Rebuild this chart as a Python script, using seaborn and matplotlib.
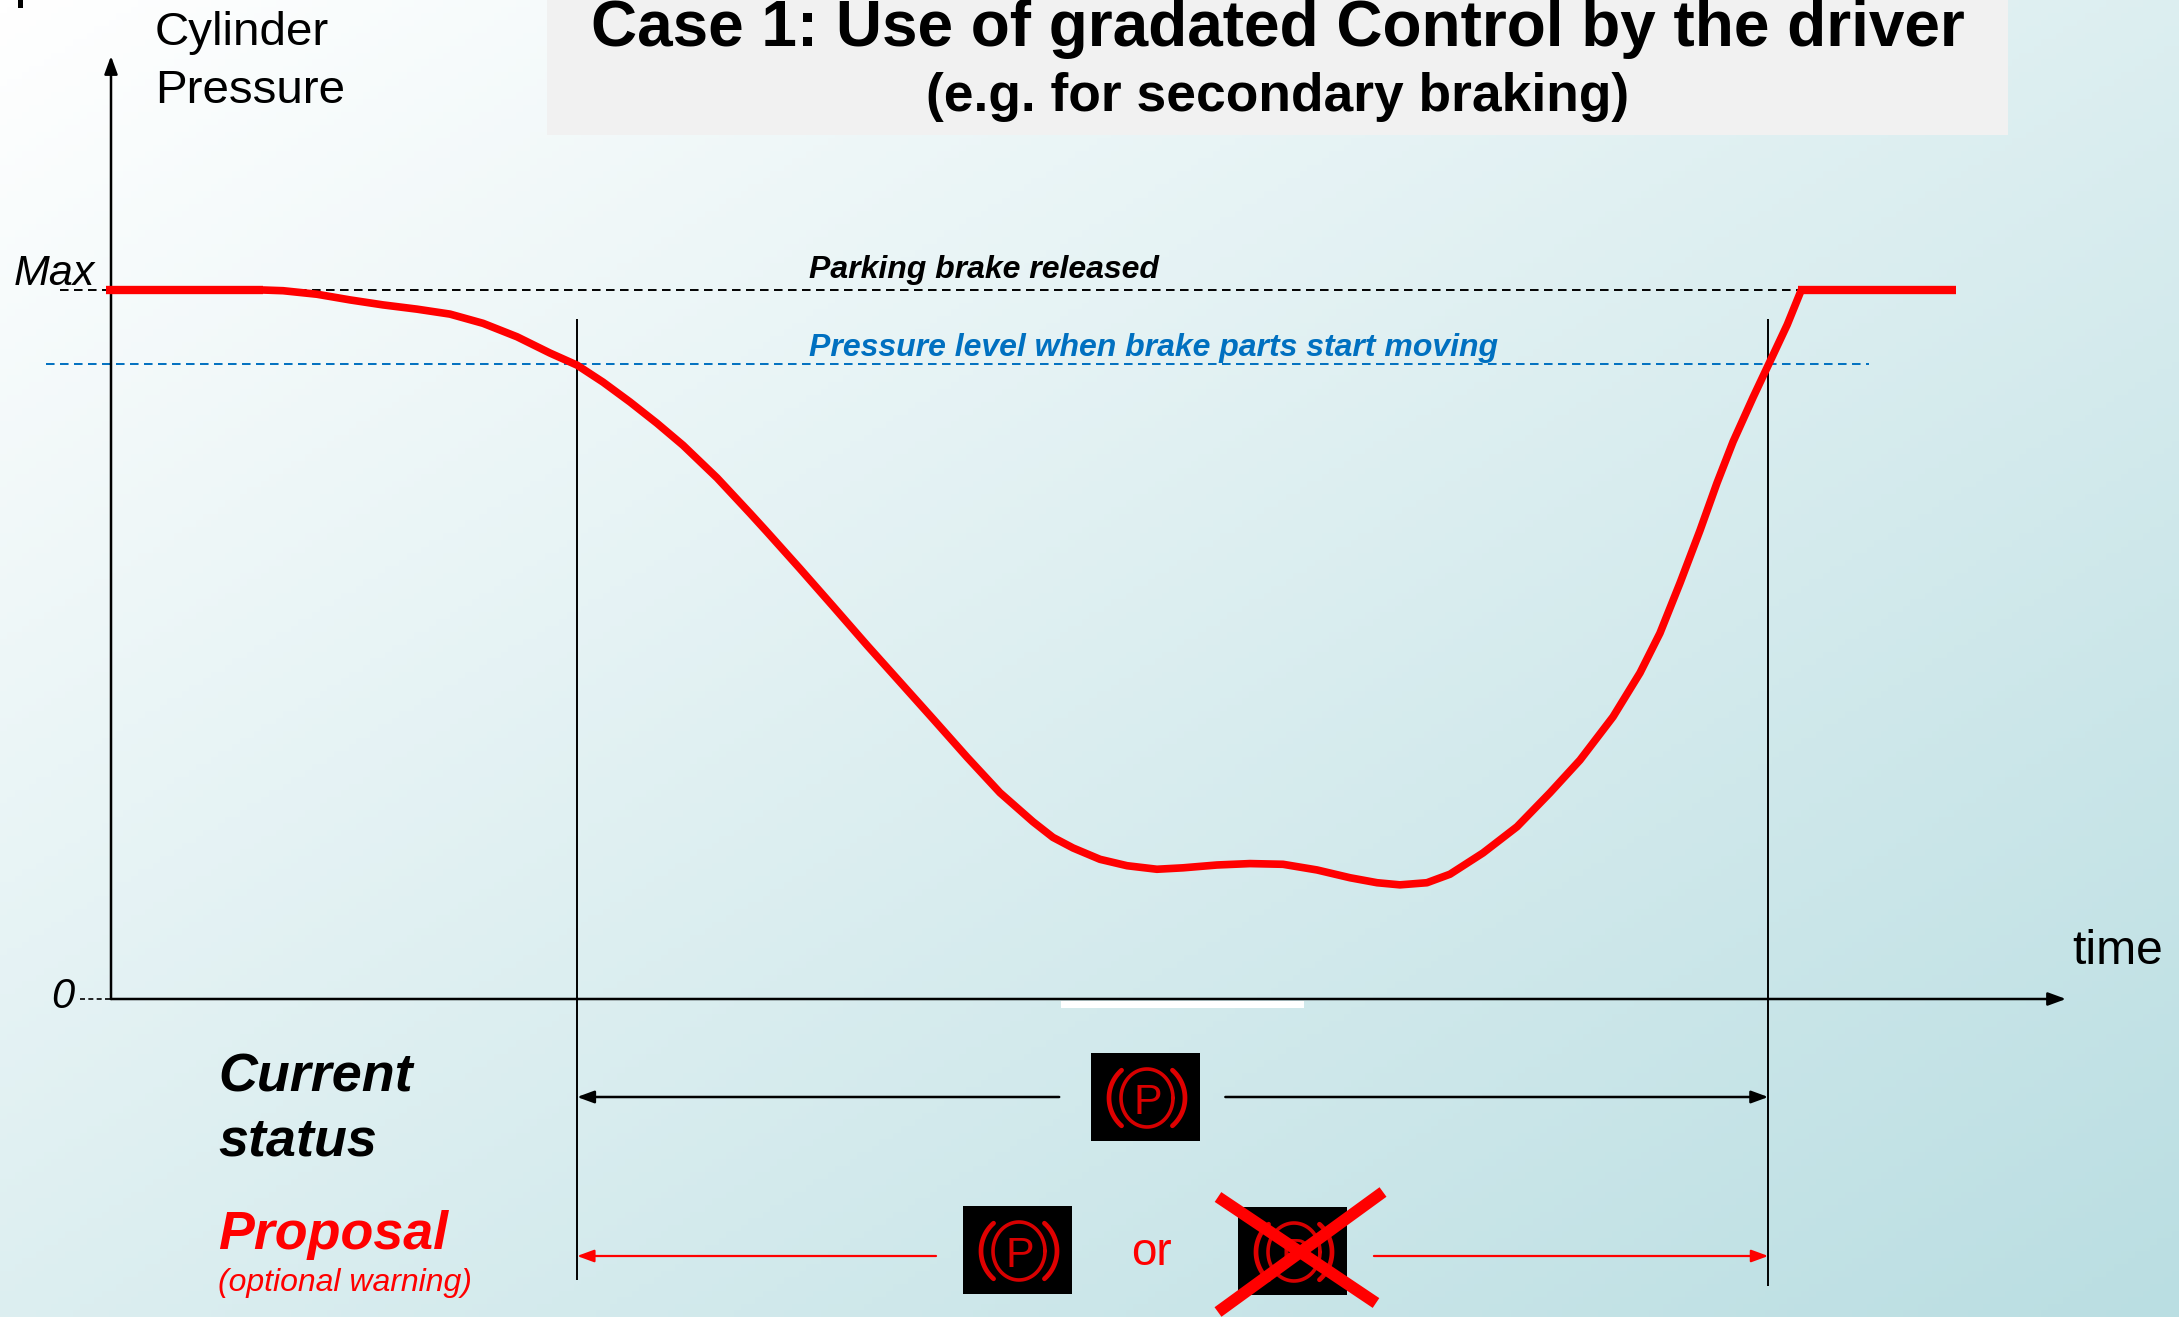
# plot.py
import numpy as np
import matplotlib.pyplot as plt
import seaborn as sns
from matplotlib.colors import LinearSegmentedColormap
from matplotlib.patches import Rectangle
from matplotlib.transforms import Affine2D

# ─── DATA ───────────────────────────────────────────────────────
TIME = [77.7, 88.0, 105.4, 122.3, 139.1, 156.5, 173.4, 190.3, 207.7, 224.6, 238.4,
        251.7, 265.5, 279.3, 292.6, 310.0, 326.9, 335.5, 352.4, 369.3, 386.7, 403.6,
        420.5, 437.9, 454.7, 471.6, 481.8, 492.1, 505.9, 519.7, 535.0, 548.3, 565.7,
        582.6, 599.5, 616.9, 633.8, 647.6, 659.3, 673.1, 684.9, 701.8, 719.2, 736.1,
        751.4, 768.3, 782.1, 792.3, 802.6, 812.8, 821.5, 829.7, 840.0, 847.7, 857.4,
        864.6]
PRESSURE = [100, 99.9, 99.4, 98.6, 97.9, 97.3, 96.6, 95.3, 93.4, 91.1, 89.4,
            87.0, 84.2, 81.2, 78.1, 73.5, 68.5, 65.9, 60.7, 55.4, 49.9, 44.7,
            39.5, 34.1, 29.1, 25.0, 22.8, 21.3, 19.7, 18.8, 18.3, 18.5, 18.9,
            19.1, 19.0, 18.2, 17.1, 16.4, 16.1, 16.4, 17.6, 20.6, 24.3, 29.1,
            33.7, 39.8, 46.0, 51.6, 58.7, 66.1, 72.8, 78.6, 84.9, 89.4, 95.1,
            100]
HOLD_BEFORE = [-2.6, 77.7]
HOLD_AFTER = [862.9, 943.7]
LEVEL_RELEASED = 100
LEVEL_MOVING = 89.6
T_START = 238.4
T_END = 847.7

TITLE = "Case 1: Use of gradated Control by the driver"
SUBTITLE = "(e.g. for secondary braking)"
RED = "#FF0000"
BLUE = "#0070C0"
FONT = "Liberation Sans"
# ────────────────────────────────────────────────────────────────

W, H = 2179, 1317
sns.set_theme(style="white")
plt.rcParams["font.family"] = FONT

fig = plt.figure(figsize=(W / 100, H / 100), dpi=100)

# slide background, diagonal gradient
bg = fig.add_axes([0, 0, 1, 1], zorder=-1)
yy, xx = np.mgrid[0:1:200j, 0:1:300j]
cmap = LinearSegmentedColormap.from_list("slide", ["#FFFFFF", "#BADEE2"])
bg.imshow((xx + yy) / 2, cmap=cmap, aspect="auto", vmin=0, vmax=1)
bg.axis("off")

ax = fig.add_axes([0, 0, 1, 1])
ax.patch.set_alpha(0)
ax.axis("off")

# pixel coordinates, origin top left, for the slide furniture
px = Affine2D().scale(1, -1).translate(0, H)


def txt(x, y, s, size, color="black", weight="normal", style="normal", ha="left"):
    ax.text(x, y, s, transform=px, fontsize=size, color=color, fontweight=weight,
            fontstyle=style, ha=ha, va="baseline", family=FONT)


def arrow(start, end, color, lw, scale=18):
    ax.annotate("", xy=end, xytext=start, xycoords="data", textcoords="data",
                arrowprops=dict(arrowstyle="-|>,head_length=0.6,head_width=0.22",
                                color=color, lw=lw, shrinkA=0, shrinkB=0,
                                mutation_scale=scale))


def brake_icon(x0, y0):
    ax.add_patch(Rectangle((x0, y0), 109, 88, transform=px, color="black", lw=0, zorder=5))
    cx, cy = x0 + 56, y0 + 45
    t = np.linspace(0, 2 * np.pi, 80)
    ax.plot(cx + 26 * np.cos(t), cy + 29 * np.sin(t), transform=px, color="#D80000",
            lw=2.6, zorder=6)
    for sgn in (-1, 1):
        a = np.linspace(-0.85, 0.85, 30)
        ax.plot(cx + sgn * (37 * np.cos(a) + 1), cy + 37 * np.sin(a), transform=px,
                color="#E00000", lw=3.4, solid_capstyle="round", zorder=6)
    ax.text(cx + 1, cy + 16, "P", transform=px, fontsize=31, color="#D80000",
            ha="center", va="baseline", family=FONT, zorder=6)


# title box
ax.add_patch(Rectangle((547, 0), 1461, 135, transform=px, color="#F1F1F1", lw=0, zorder=1))
txt(1278, 46, TITLE, 46, weight="bold", ha="center")
txt(1278, 111, SUBTITLE, 38.4, weight="bold", ha="center")

# cropped mark in the corner
ax.add_patch(Rectangle((18, 0), 5, 8, transform=px, color="black", lw=0))

# reference levels
ax.hlines(LEVEL_RELEASED, -26, 866, color="black", lw=1.4, linestyles=(0, (4.4, 2.8)), zorder=2)
ax.hlines(LEVEL_MOVING, -33, 899, color=BLUE, lw=1.4, linestyles=(0, (4.4, 2.8)), zorder=2)
txt(809, 278, "Parking brake released", 23, weight="bold", style="italic")
txt(809, 356, "Pressure level when brake parts start moving", 23, color=BLUE,
    weight="bold", style="italic")

# axes
arrow((0, 0), (0, 133), "black", 1.8)
arrow((0, 0), (1000, 0), "black", 1.8)
ax.hlines(0, -16, 0, color="black", lw=1.2, linestyles=(0, (3, 2)))
ax.add_patch(Rectangle((1061, 1001), 243, 7, transform=px, color="white", lw=0, zorder=3))

txt(155, 45, "Cylinder", 34.2)
txt(155, 103, "Pressure", 34.2)
txt(14, 285, "Max", 31, style="italic")
txt(51, 1008, "0", 30, style="italic")
txt(2072, 964, "time", 34.6)

# pressure curve, with the two thicker held stretches
sns.lineplot(x=TIME, y=PRESSURE, ax=ax, color=RED, linewidth=5.5, sort=False,
             errorbar=None, solid_capstyle="butt", zorder=4)
for hold in (HOLD_BEFORE, HOLD_AFTER):
    sns.lineplot(x=hold, y=[LEVEL_RELEASED] * 2, ax=ax, color=RED, linewidth=6,
                 errorbar=None, solid_capstyle="butt", zorder=4)

# period markers
for t, bottom in ((T_START, -39.7), (T_END, -40.5)):
    ax.vlines(t, bottom, 95.9, color="black", lw=1.4, zorder=3)

# current status row
y_status = (999 - 1097) / 7.09
arrow((485, y_status), (T_START, y_status), "black", 1.8, scale=17)
arrow((570, y_status), (T_END, y_status), "black", 1.8, scale=17)
txt(218, 1091, "Current", 38.8, weight="bold", style="italic")
txt(218, 1155, "status", 38.8, weight="bold", style="italic")
brake_icon(1091, 1053)

# proposal row
y_prop = (999 - 1256) / 7.09
arrow((422, y_prop), (T_START, y_prop), RED, 1.6, scale=17)
arrow((646, y_prop), (T_END, y_prop), RED, 1.6, scale=17)
txt(218, 1249, "Proposal", 38.7, color=RED, weight="bold", style="italic")
txt(218, 1291, "(optional warning)", 23, color=RED, style="italic")
brake_icon(963, 1206)
txt(1151, 1265, "or", 33, color=RED, ha="center")
brake_icon(1238, 1207)
ax.plot([1218, 1376], [1197, 1303], transform=px, color=RED, lw=8.5,
        solid_capstyle="butt", zorder=7)
ax.plot([1383, 1218], [1192, 1312], transform=px, color=RED, lw=8.5,
        solid_capstyle="butt", zorder=7)

# 1 time unit = 1.955 px, 1 pressure unit = 7.09 px
ax.set_xlim(-111 / 1.955, (W - 111) / 1.955)
ax.set_ylim(-(H - 999) / 7.09, 999 / 7.09)

fig.savefig("out.png", dpi=100)
plt.close(fig)
